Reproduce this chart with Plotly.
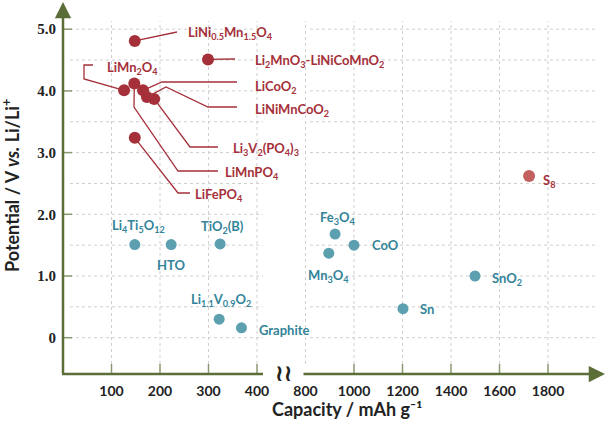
import plotly.graph_objects as go

# ---------------- data ----------------
cath_names = ["LiNi<sub>0.5</sub>Mn<sub>1.5</sub>O<sub>4</sub>",
              "Li<sub>2</sub>MnO<sub>3</sub>-LiNiCoMnO<sub>2</sub>",
              "LiMn<sub>2</sub>O<sub>4</sub>",
              "LiCoO<sub>2</sub>",
              "LiNiMnCoO<sub>2</sub>",
              "Li<sub>3</sub>V<sub>2</sub>(PO<sub>4</sub>)<sub>3</sub>",
              "LiMnPO<sub>4</sub>",
              "LiFePO<sub>4</sub>"]
cath_cap = [148, 299, 126, 165, 173, 188, 147, 148]
cath_pot = [4.81, 4.51, 4.01, 4.01, 3.90, 3.87, 4.12, 3.24]

sulfur_name = ["S<sub>8</sub>"]
sulfur_cap = [1722]
sulfur_pot = [2.62]

anode_names = ["Li<sub>4</sub>Ti<sub>5</sub>O<sub>12</sub>", "HTO", "TiO<sub>2</sub>(B)",
               "Li<sub>1.1</sub>V<sub>0.9</sub>O<sub>2</sub>", "Graphite",
               "Fe<sub>3</sub>O<sub>4</sub>", "CoO", "Mn<sub>3</sub>O<sub>4</sub>",
               "SnO<sub>2</sub>", "Sn"]
anode_cap = [148, 223, 324, 322, 368, 922, 1000, 896, 1499, 1202]
anode_pot = [1.51, 1.51, 1.52, 0.30, 0.16, 1.68, 1.50, 1.37, 1.00, 0.47]

x_ticks = [100, 200, 300, 400, 800, 1000, 1200, 1400, 1600, 1800]
x_ticktext = ["100", "200", "300", "400", "800", "1000", "1200", "1400", "1600", "1800"]
y_ticks = [0, 1, 2, 3, 4, 5]
y_ticktext = ["0", "1.0", "2.0", "3.0", "4.0", "5.0"]
y_grid = [0, 0.5, 1, 1.5, 2, 2.5, 3, 3.5, 4, 4.5, 5]

# ---------------- styling ----------------
RED = "#a5303a"
RED_LIGHT = "#c2605f"
TEAL_DOT = "#5c9fae"
TEAL_TXT = "#33849a"
OLIVE = "#5c6e38"
TICKC = "#8a9870"
GRID = "#cfcfcf"
LFONT = "Lato"

W, H = 607, 422
L, R, T, B = 57, 607, 0, 380
PX0, PXS = 63.0, 0.485      # x pixel of capacity 0, px per unit
PY0, PYS = 337.7, 61.7       # y pixel of 0 V, px per V


def brk(c):
    """broken axis mapping: 0-400 linear, 800+ compressed by 2"""
    return c if c <= 400 else 500 + (c - 800) / 2.0


def dx(px):
    return (px - PX0) / PXS


def dy(py):
    return (PY0 - py) / PYS


fig = go.Figure()

# ---------------- grid, ticks, axes ----------------
shapes = []
for v in y_grid:
    for a, b in [(70, 263), (310, 597)]:
        shapes.append(dict(type="line", xref="x", yref="y", x0=dx(a), x1=dx(b), y0=v, y1=v,
                           line=dict(color=GRID, width=1, dash="dot"), layer="below"))
for c in x_ticks:
    shapes.append(dict(type="line", xref="x", yref="y", x0=brk(c), x1=brk(c), y0=dy(364), y1=dy(21),
                       line=dict(color=GRID, width=1, dash="dot"), layer="below"))
    if c != 800:
        shapes.append(dict(type="line", xref="x", yref="y", x0=brk(c), x1=brk(c), y0=dy(374), y1=dy(364),
                           line=dict(color=TICKC, width=1.5), layer="below"))
for v in y_ticks:
    shapes.append(dict(type="line", xref="x", yref="y", x0=0, x1=dx(72), y0=v, y1=v,
                       line=dict(color=TICKC, width=1.5), layer="below"))
# left x-axis segment
shapes.append(dict(type="line", xref="x", yref="y", x0=dx(62), x1=dx(263), y0=dy(374), y1=dy(374),
                   line=dict(color=OLIVE, width=2.5), layer="above"))

# ---------------- leader lines ----------------
leaders = [
    (0, [(177, 32)]),
    (1, [(235, 59)]),
    (2, [(93, 65), (84, 65), (84, 79)]),
    (3, [(237, 82), (162, 82)]),
    (4, [(237, 107), (208, 107), (166, 87)]),
    (5, [(218, 147), (190, 147)]),
    (6, [(218, 171), (178, 171), (134, 107)]),
    (7, [(190, 193), (178, 193)]),
]
for idx, pts in leaders:
    xs = [dx(p[0]) for p in pts] + [brk(cath_cap[idx])]
    ys = [dy(p[1]) for p in pts] + [cath_pot[idx]]
    path = "M " + " L ".join(f"{x},{y}" for x, y in zip(xs, ys))
    shapes.append(dict(type="path", xref="x", yref="y", path=path,
                       line=dict(color=RED, width=1.3), layer="below"))

# ---------------- markers ----------------
fig.add_trace(go.Scatter(x=[brk(c) for c in cath_cap], y=cath_pot, mode="markers",
                         marker=dict(size=12, color=RED, line=dict(width=0)), showlegend=False,
                         cliponaxis=False))
fig.add_trace(go.Scatter(x=[brk(c) for c in sulfur_cap], y=sulfur_pot, mode="markers",
                         marker=dict(size=12, color=RED_LIGHT, line=dict(width=0)), showlegend=False))
fig.add_trace(go.Scatter(x=[brk(c) for c in anode_cap], y=anode_pot, mode="markers",
                         marker=dict(size=11, color=TEAL_DOT, line=dict(width=0)), showlegend=False))

# ---------------- labels ----------------
ann = []
cath_lab = [(186, 33, "left"), (253, 61, "left"), (105, 68, "left"), (253, 87, "left"),
            (253, 110, "left"), (231, 149, "left"), (223, 173, "left"), (193, 195, "left")]
for name, (px, py, anc) in zip(cath_names, cath_lab):
    ann.append(dict(x=dx(px), y=dy(py), xref="x", yref="y", text=name, showarrow=False,
                    xanchor=anc, yanchor="middle",
                    font=dict(family=LFONT, size=13, color=RED, weight="bold")))
ann.append(dict(x=dx(541), y=dy(181), xref="x", yref="y", text=sulfur_name[0], showarrow=False,
                xanchor="left", yanchor="middle",
                font=dict(family=LFONT, size=13, color=RED, weight="bold")))

anode_lab = [(138, 226, "center"), (171, 265, "center"), (222, 227, "center"), (221, 300, "center"),
             (257, 330, "left"), (338, 218, "center"), (370, 245, "left"), (328, 276, "center"),
             (490, 279, "left"), (418, 309, "left")]
for name, (px, py, anc) in zip(anode_names, anode_lab):
    ann.append(dict(x=dx(px), y=dy(py), xref="x", yref="y", text=name, showarrow=False,
                    xanchor=anc, yanchor="middle",
                    font=dict(family=LFONT, size=13, color=TEAL_TXT, weight="bold")))

# axis arrows
ann.append(dict(x=dx(605), y=dy(374), ax=dx(302), ay=dy(374), xref="x", yref="y", axref="x", ayref="y",
                text="", showarrow=True, arrowhead=2, arrowsize=1.3, arrowwidth=2.5, arrowcolor=OLIVE))
ann.append(dict(x=0, y=dy(2), ax=0, ay=dy(375), xref="x", yref="y", axref="x", ayref="y",
                text="", showarrow=True, arrowhead=2, arrowsize=1.3, arrowwidth=2.5, arrowcolor=OLIVE))
# break symbol
ann.append(dict(x=dx(283), y=dy(373), xref="x", yref="y", text="<b>≀≀</b>", showarrow=False,
                xanchor="center", yanchor="middle",
                font=dict(family="DejaVu Sans", size=23, color="#222222")))
# axis titles
ann.append(dict(x=(347 - L) / (R - L), y=(B - 422) / (B - T), xref="paper", yref="paper",
                text="Capacity / mAh g⁻¹", showarrow=False, xanchor="center", yanchor="bottom",
                font=dict(family=LFONT, size=18, color="#222222", weight="bold")))
ann.append(dict(x=(11 - L) / (R - L), y=(B - 186) / (B - T), xref="paper", yref="paper",
                text="Potential / V <i>vs.</i> Li/Li<sup>+</sup>", showarrow=False, textangle=-90,
                xanchor="center", yanchor="middle",
                font=dict(family=LFONT, size=18, color="#222222", weight="bold")))

fig.update_layout(
    width=W, height=H,
    margin=dict(l=L, r=W - R, t=T, b=H - B, pad=0),
    paper_bgcolor="white", plot_bgcolor="white",
    shapes=shapes, annotations=ann,
    xaxis=dict(range=[dx(L), dx(R)], tickvals=[brk(c) for c in x_ticks], ticktext=x_ticktext,
               ticks="", showgrid=False, zeroline=False, showline=False, fixedrange=True,
               ticklabelstandoff=1,
               tickfont=dict(family=LFONT, size=14, color="#222222", weight="bold")),
    yaxis=dict(range=[dy(B), dy(T)], tickvals=y_ticks, ticktext=y_ticktext,
               ticks="", showgrid=False, zeroline=False, showline=False, fixedrange=True,
               ticklabelstandoff=0,
               tickfont=dict(family="Liberation Serif", size=15, color="#222222", weight="bold")),
)

fig.write_html("out.html")
